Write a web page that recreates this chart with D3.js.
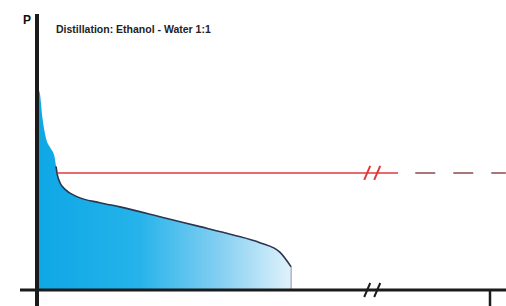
<!DOCTYPE html>
<html><head><meta charset="utf-8">
<script src="https://cdn.jsdelivr.net/npm/d3@7"></script>
<style>html,body{margin:0;padding:0;background:#fff;}svg{display:block;}</style>
</head><body>
<script>
// Data (time in arbitrary units, pressure in arbitrary units)
const timeVals     = [0.06, 0.12, 0.20, 0.30, 0.38, 0.42, 0.45, 0.51, 0.62, 0.88, 1.39, 1.83, 2.87, 3.60, 4.33, 4.92, 5.36, 5.61];
const pressureVals = [7.10, 6.20, 5.45, 5.10, 4.85, 4.45, 4.14, 3.85, 3.62, 3.36, 3.14, 2.99, 2.57, 2.28, 1.98, 1.70, 1.36, 0.83];
const boilingLevel = [4.21];
const redStart = [0.45], redSolidEnd = [7.97], dashStart = [8.35], dashEnd = [10.35];
const breakX = [7.40];
const xTickVals = [10];
const title = ["Distillation: Ethanol - Water 1:1"];
const yLabel = ["P"];

const W = 506, H = 306;
const x = d3.scaleLinear().domain([0, 10]).range([37, 490]);
const y = d3.scaleLinear().domain([0, 10]).range([290, 12]);

const svg = d3.select("body").append("svg").attr("width", W).attr("height", H);
const defs = svg.append("defs");
const grad = defs.append("linearGradient").attr("id", "fillg")
  .attr("gradientUnits", "userSpaceOnUse")
  .attr("x1", x(0)).attr("x2", x(5.61)).attr("y1", 0).attr("y2", 0);
grad.append("stop").attr("offset", "0%").attr("stop-color", "#0ea7e6");
grad.append("stop").attr("offset", "40%").attr("stop-color", "#25b3ea");
grad.append("stop").attr("offset", "72%").attr("stop-color", "#84cff2");
grad.append("stop").attr("offset", "100%").attr("stop-color", "#e0f2fb");

const pts = timeVals.map((t, i) => [t, pressureVals[i]]);
const areaPts = [[0, 7.3]].concat(pts);
const curve = d3.curveMonotoneX;
svg.append("path").datum(areaPts)
  .attr("d", d3.area().x(d => x(d[0])).y0(y(0)).y1(d => y(d[1])).curve(curve))
  .attr("fill", "url(#fillg)");

const line = d3.line().x(d => x(d[0])).y(d => y(d[1])).curve(curve);
svg.append("path").datum(pts.slice(5))
  .attr("d", line).attr("fill", "none").attr("stroke", "#2b3550").attr("stroke-width", 1.6);
const last = pts[pts.length - 1];
svg.append("line").attr("x1", x(last[0])).attr("x2", x(last[0]))
  .attr("y1", y(last[1])).attr("y2", y(0))
  .attr("stroke", "#8a96a6").attr("stroke-width", 1);

// red boiling line
svg.append("line").attr("x1", x(redStart[0])).attr("x2", x(redSolidEnd[0]))
  .attr("y1", y(boilingLevel[0])).attr("y2", y(boilingLevel[0]))
  .attr("stroke", "#e2383c").attr("stroke-width", 1.6);
svg.append("line").attr("x1", x(dashStart[0])).attr("x2", x(dashEnd[0]))
  .attr("y1", y(boilingLevel[0])).attr("y2", y(boilingLevel[0]))
  .attr("stroke", "#8e4a4c").attr("stroke-width", 1.6).attr("stroke-dasharray", "20,18");

// axes
svg.append("line").attr("x1", 20).attr("x2", W).attr("y1", y(0)).attr("y2", y(0))
  .attr("stroke", "#1b1b1b").attr("stroke-width", 3);
svg.append("line").attr("x1", x(0)).attr("x2", x(0)).attr("y1", y(9.93)).attr("y2", H)
  .attr("stroke", "#1b1b1b").attr("stroke-width", 4);
svg.selectAll(".xt").data(xTickVals).enter().append("line")
  .attr("x1", d => x(d)).attr("x2", d => x(d)).attr("y1", y(0)).attr("y2", H)
  .attr("stroke", "#1b1b1b").attr("stroke-width", 2.5);

// break marks
function breakMark(cx, cy, color) {
  [-5, 5].forEach(dx => {
    svg.append("line").attr("x1", cx + dx - 3).attr("y1", cy + 7)
      .attr("x2", cx + dx + 3).attr("y2", cy - 7)
      .attr("stroke", color).attr("stroke-width", 2);
  });
}
breakMark(x(breakX[0]), y(boilingLevel[0]), "#e2383c");
breakMark(x(breakX[0]), y(0), "#1b1b1b");

// text
svg.append("text").text(yLabel[0]).attr("x", 23).attr("y", 24)
  .attr("font-family", "Liberation Sans, Arial, sans-serif").attr("font-weight", "bold")
  .attr("font-size", 12).attr("fill", "#111");
svg.append("text").text(title[0]).attr("x", 56).attr("y", 33)
  .attr("font-family", "Liberation Sans, Arial, sans-serif").attr("font-weight", "bold")
  .attr("font-size", 10.5).attr("fill", "#222");
</script>
</body></html>
